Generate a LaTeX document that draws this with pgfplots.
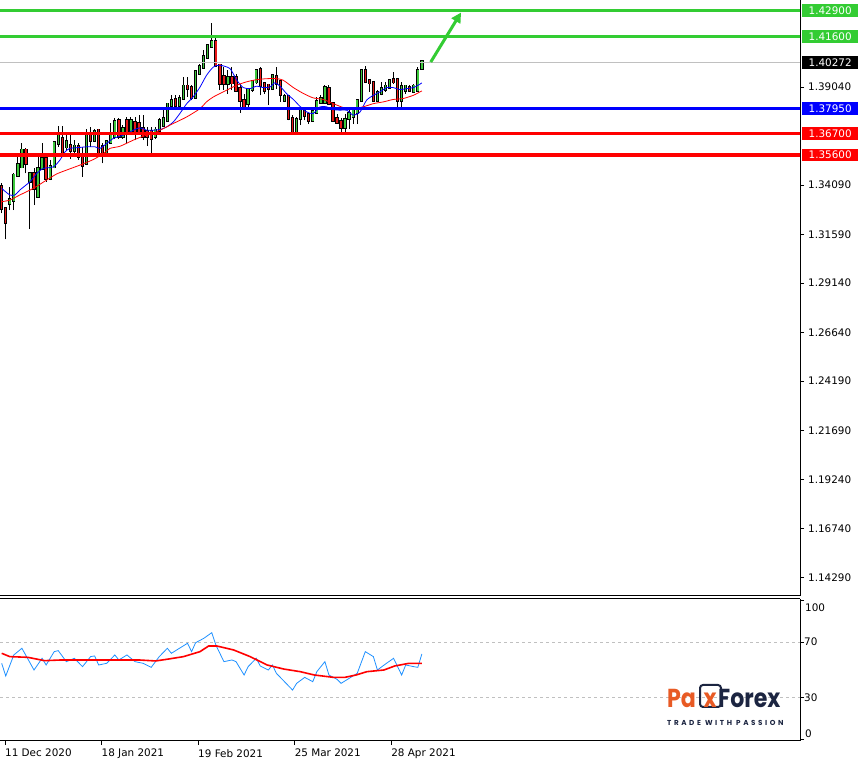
\documentclass[border=0pt]{standalone}
\usepackage{fontspec}
\setmainfont{DejaVu Sans}
\newfontfamily\logofont{Poppins}
\newfontfamily\tagfont{Poppins}[LetterSpace=36]
\usepackage{pgfplots}
\usepackage{pgfplotstable}
\pgfplotsset{compat=1.18}
\usetikzlibrary{arrows.meta}

\definecolor{lvgreen}{HTML}{33CC33}
\definecolor{cgreen}{HTML}{3CC83C}
\definecolor{cred}{HTML}{E81818}
\definecolor{lvred}{HTML}{FF0000}
\definecolor{lvblue}{HTML}{0000FF}
\definecolor{rsiblue}{HTML}{1E90FF}
\definecolor{pricegray}{HTML}{C0C0C0}
\definecolor{paxorange}{HTML}{E85A24}
\definecolor{paxnavy}{HTML}{1C2541}

\newcommand\ticks{\fontsize{10.4}{12}\selectfont}
\tikzset{tag/.style={font=\ticks, text=white, anchor=west, minimum width=56pt,
    minimum height=12.5pt, inner sep=0pt, xshift=2pt}}
\pgfplotsset{bars/.style={draw=none, no markers, forget plot,
    error bars/y dir=plus, error bars/y explicit, error bars/error mark=none}}

% daily candles, bar index i
\pgfplotstableread{
i o h l c
0 1.3401 1.3417 1.3266 1.3291
1 1.3291 1.3300 1.3135 1.3219
2 1.3317 1.3401 1.3283 1.3333
3 1.3333 1.3468 1.3283 1.3459
4 1.3459 1.3552 1.3451 1.3510
5 1.3501 1.3622 1.3493 1.3585
6 1.3585 1.3594 1.3468 1.3518
7 1.3426 1.3476 1.3186 1.3468
8 1.3468 1.3493 1.3308 1.3392
9 1.3354 1.3568 1.3350 1.3493
10 1.3493 1.3619 1.3485 1.3543
11 1.3543 1.3568 1.3426 1.3443
12 1.3443 1.3535 1.3434 1.3501
13 1.3501 1.3627 1.3493 1.3624
14 1.3619 1.3706 1.3602 1.3669
15 1.3644 1.3706 1.3552 1.3560
16 1.3602 1.3661 1.3585 1.3627
17 1.3607 1.3661 1.3543 1.3585
18 1.3585 1.3636 1.3568 1.3605
19 1.3602 1.3619 1.3538 1.3552
20 1.3552 1.3602 1.3451 1.3510
21 1.3518 1.3694 1.3510 1.3669
22 1.3669 1.3702 1.3602 1.3636
23 1.3636 1.3694 1.3627 1.3678
24 1.3686 1.3694 1.3568 1.3577
25 1.3602 1.3619 1.3518 1.3577
26 1.3577 1.3636 1.3568 1.3627
27 1.3627 1.3720 1.3619 1.3656
28 1.3653 1.3745 1.3644 1.3728
29 1.3733 1.3745 1.3644 1.3653
30 1.3653 1.3711 1.3644 1.3694
31 1.3736 1.3753 1.3619 1.3678
32 1.3683 1.3753 1.3678 1.3736
33 1.3723 1.3753 1.3636 1.3683
34 1.3720 1.3762 1.3669 1.3678
35 1.3694 1.3762 1.3636 1.3653
36 1.3678 1.3702 1.3605 1.3653
37 1.3678 1.3702 1.3565 1.3644
38 1.3653 1.3702 1.3644 1.3686
39 1.3686 1.3745 1.3683 1.3736
40 1.3711 1.3787 1.3706 1.3745
41 1.3736 1.3820 1.3733 1.3817
42 1.3812 1.3862 1.3804 1.3837
43 1.3841 1.3862 1.3787 1.3812
44 1.3812 1.3862 1.3807 1.3846
45 1.3846 1.3955 1.3841 1.3908
46 1.3908 1.3955 1.3854 1.3896
47 1.3901 1.3913 1.3837 1.3854
48 1.3854 1.3988 1.3846 1.3980
49 1.3975 1.4022 1.3968 1.4008
50 1.4005 1.4089 1.3997 1.4059
51 1.4056 1.4123 1.4052 1.4114
52 1.4109 1.4227 1.4106 1.4134
53 1.4134 1.4165 1.4005 1.4014
54 1.4014 1.4022 1.3888 1.3921
55 1.3955 1.4005 1.3888 1.3921
56 1.3921 1.3988 1.3871 1.3951
57 1.3951 1.4005 1.3888 1.3925
58 1.3951 1.3972 1.3879 1.3888
59 1.3896 1.3921 1.3773 1.3837
60 1.3837 1.3871 1.3800 1.3804
61 1.3820 1.3896 1.3804 1.3888
62 1.3891 1.3938 1.3879 1.3930
63 1.3930 1.3997 1.3921 1.3988
64 1.3993 1.4005 1.3862 1.3913
65 1.3921 1.3930 1.3871 1.3888
66 1.3913 1.3921 1.3812 1.3896
67 1.3896 1.3972 1.3888 1.3962
68 1.3955 1.4005 1.3896 1.3921
69 1.3930 1.3938 1.3829 1.3867
70 1.3837 1.3871 1.3829 1.3857
71 1.3857 1.3862 1.3736 1.3745
72 1.3745 1.3762 1.3678 1.3683
73 1.3683 1.3753 1.3678 1.3740
74 1.3745 1.3795 1.3711 1.3787
75 1.3778 1.3804 1.3736 1.3762
76 1.3762 1.3770 1.3716 1.3736
77 1.3736 1.3795 1.3728 1.3778
78 1.3778 1.3854 1.3770 1.3832
79 1.3829 1.3862 1.3820 1.3846
80 1.3829 1.3913 1.3820 1.3901
81 1.3896 1.3913 1.3812 1.3820
82 1.3820 1.3829 1.3733 1.3736
83 1.3745 1.3770 1.3720 1.3728
84 1.3731 1.3745 1.3678 1.3702
85 1.3702 1.3770 1.3678 1.3740
86 1.3745 1.3795 1.3694 1.3770
87 1.3757 1.3804 1.3716 1.3783
88 1.3778 1.3837 1.3716 1.3837
89 1.3837 1.3988 1.3829 1.3985
90 1.3985 1.4012 1.3925 1.3933
91 1.3938 1.3946 1.3879 1.3925
92 1.3925 1.3930 1.3829 1.3837
93 1.3837 1.3888 1.3829 1.3876
94 1.3871 1.3930 1.3862 1.3896
95 1.3891 1.3930 1.3879 1.3908
96 1.3904 1.3941 1.3896 1.3935
97 1.3941 1.3980 1.3921 1.3930
98 1.3941 1.3946 1.3804 1.3837
99 1.3837 1.3930 1.3804 1.3904
100 1.3888 1.3913 1.3871 1.3908
101 1.3901 1.3913 1.3879 1.3888
102 1.3884 1.3921 1.3874 1.3908
103 1.3888 1.4005 1.3884 1.3985
104 1.4000 1.4042 1.3992 1.4030
}\candles

\begin{document}
\begin{tikzpicture}
\useasboundingbox (0,0) rectangle (862pt,760pt);

% ---------------- price panel
\begin{axis}[
  at={(0pt,164pt)}, anchor=south west,
  scale only axis, width=800pt, height=596pt,
  xmin=-0.42, xmax=197.6, ymin=1.13346, ymax=1.43432,
  axis x line*=bottom, axis y line*=right,
  axis line style={black, line width=1pt},
  xtick=\empty,
  ytick={1.1429,1.1674,1.1924,1.2169,1.2419,1.2664,1.2914,1.3159,1.3409,1.3904},
  yticklabels={1.14290,1.16740,1.19240,1.21690,1.24190,1.26640,1.29140,1.31590,1.34090,1.39040},
  tick align=outside, major tick length=4pt,
  tick style={black, line width=0.8pt},
  yticklabel style={font=\ticks, anchor=west, inner sep=0pt, xshift=4pt},
  clip=false,
]
% wicks
\addplot [bars, error bars/error bar style={draw=black, line width=1pt}]
  table [x=i, y=l, y error plus expr=\thisrow{h}-\thisrow{l}] {\candles};
% bullish bodies
\addplot [bars, restrict expr to domain={\thisrow{c}-\thisrow{o}}{0:1},
  error bars/error bar style={draw=black, line width=3.3pt, line cap=rect}]
  table [x=i, y=o, y error plus expr=\thisrow{c}-\thisrow{o}] {\candles};
\addplot [bars, restrict expr to domain={\thisrow{c}-\thisrow{o}}{0:1},
  error bars/error bar style={draw=cgreen, line width=1.5pt, line cap=rect}]
  table [x=i, y=o, y error plus expr=\thisrow{c}-\thisrow{o}] {\candles};
% bearish bodies
\addplot [bars, restrict expr to domain={\thisrow{o}-\thisrow{c}}{0.00001:1},
  error bars/error bar style={draw=black, line width=3.3pt, line cap=rect}]
  table [x=i, y=c, y error plus expr=\thisrow{o}-\thisrow{c}] {\candles};
\addplot [bars, restrict expr to domain={\thisrow{o}-\thisrow{c}}{0.00001:1},
  error bars/error bar style={draw=cred, line width=1.5pt, line cap=rect}]
  table [x=i, y=c, y error plus expr=\thisrow{o}-\thisrow{c}] {\candles};

% moving averages
\addplot [lvblue, line width=0.8pt, smooth, tension=0.4] coordinates {
(0,1.3392) (2,1.3359) (3.3,1.3359) (4.5,1.3384) (7,1.3426) (8.7,1.3468)
(10.3,1.3493) (12.8,1.3501) (14.4,1.3535) (15.7,1.3577) (16.9,1.3594)
(19.4,1.3599) (21,1.3602) (23.1,1.3602) (24.3,1.3594) (26,1.3619)
(27.6,1.3644) (30.1,1.3661) (32.6,1.3686) (34.2,1.3698) (35.9,1.3686)
(37.5,1.3686) (39.2,1.3689) (40.8,1.3702) (42.5,1.3728) (44.1,1.3770)
(45.8,1.3820) (47.4,1.3854) (49.1,1.3904) (50.7,1.3963) (52.4,1.4005)
(54,1.4014) (56.5,1.3997) (58.2,1.3938) (59.8,1.3901) (61.5,1.3896)
(63.1,1.3908) (64.8,1.3901) (66.4,1.3904) (67.6,1.3925) (68.9,1.3908)
(70.5,1.3871) (72.2,1.3841) (73.8,1.3807) (75.5,1.3778) (77.1,1.3770)
(78.8,1.3804) (80.4,1.3804) (82.1,1.3790) (83.7,1.3787) (85.4,1.3787)
(87,1.3762) (88.7,1.3778) (90.3,1.3837) (92,1.3862) (93.6,1.3879)
(95.3,1.3901) (96.9,1.3901) (98.6,1.3891) (100.2,1.3896) (101.9,1.3901)
(103.5,1.3918) (104,1.3925)};
\addplot [lvred, line width=0.8pt, smooth, tension=0.4] coordinates {
(0,1.3325) (2,1.3333) (4.5,1.3359) (7.8,1.3392) (11.1,1.3434) (13.6,1.3465)
(16.1,1.3485) (19.4,1.3510) (22.7,1.3538) (25.2,1.3568) (26.8,1.3594)
(29.3,1.3605) (32.6,1.3636) (35.1,1.3656) (37.5,1.3669) (40,1.3694)
(42.5,1.3720) (45.8,1.3753) (49.1,1.3795) (50.7,1.3829) (52.4,1.3854)
(55.7,1.3888) (58.2,1.3913) (60.6,1.3930) (63.1,1.3941) (65.6,1.3946)
(68.1,1.3946) (69.7,1.3938) (72.2,1.3901) (74.7,1.3871) (77.1,1.3849)
(79.6,1.3841) (82.1,1.3820) (84.6,1.3800) (87,1.3795) (89.5,1.3804)
(92,1.3820) (94.5,1.3829) (96.9,1.3841) (99.4,1.3846) (101.9,1.3862)
(103.5,1.3879) (104,1.3884)};

% current price and levels
\addplot [pricegray, line width=0.8pt] coordinates {(-0.42,1.40272) (197.6,1.40272)};
\addplot [lvgreen, line width=3pt] coordinates {(-0.42,1.429) (197.6,1.429)};
\addplot [lvgreen, line width=3pt] coordinates {(-0.42,1.416) (197.6,1.416)};
\addplot [lvblue, line width=3.5pt] coordinates {(-0.42,1.3795) (197.6,1.3795)};
\addplot [lvred, line width=3.5pt] coordinates {(-0.42,1.367) (197.6,1.367)};
\addplot [lvred, line width=3.5pt] coordinates {(-0.42,1.356) (197.6,1.356)};

% target arrow
\addplot [lvgreen, line width=3pt, -{Triangle[length=10pt,width=10pt]}]
  coordinates {(106.2,1.4030) (113.7,1.4280)};

\node [tag, fill=lvgreen] at (axis cs:197.6,1.429) {1.42900};
\node [tag, fill=lvgreen] at (axis cs:197.6,1.416) {1.41600};
\node [tag, fill=black] at (axis cs:197.6,1.40272) {1.40272};
\node [tag, fill=lvblue] at (axis cs:197.6,1.3795) {1.37950};
\node [tag, fill=lvred] at (axis cs:197.6,1.367) {1.36700};
\node [tag, fill=lvred] at (axis cs:197.6,1.356) {1.35600};
\end{axis}

% ---------------- RSI panel
\begin{axis}[
  at={(0pt,19pt)}, anchor=south west,
  scale only axis, width=800pt, height=142.3pt,
  xmin=-0.42, xmax=197.6, ymin=-1.08, ymax=101.1,
  axis x line*=bottom, axis y line*=right,
  axis line style={black, line width=1pt},
  xtick={0.82,24.7,48.6,72.5,96.4},
  xticklabels={11 Dec 2020,18 Jan 2021,19 Feb 2021,25 Mar 2021,28 Apr 2021},
  ytick={0,30,70,100}, yticklabels={},
  tick align=outside, major tick length=4pt,
  tick style={black, line width=0.8pt},
  xticklabel style={font=\ticks, anchor=north west, inner sep=0pt, yshift=-4pt},
  clip=false,
]
\draw [black, line width=1pt] (rel axis cs:0,1) -- (rel axis cs:1,1);
\addplot [pricegray, dash pattern=on 3pt off 3pt, line width=0.8pt]
  coordinates {(-0.42,70) (197.6,70)};
\addplot [pricegray, dash pattern=on 3pt off 3pt, line width=0.8pt]
  coordinates {(-0.42,30) (197.6,30)};

\addplot [rsiblue, line width=0.8pt] coordinates {
(0,54.7) (1,45.6) (3,60.7) (5,65.5) (8,49.9) (10,58.3) (11,53.5) (13,63.1)
(14,63.8) (16,55.9) (18,58.3) (20,52.3) (22,59.5) (23,60.0) (24,53.5)
(26,54.7) (28,60.7) (29,57.1) (31,60.7) (33,55.9) (35,54.7) (37,51.8)
(39,59.5) (41,65.5) (42,61.9) (44,65.5) (46,69.1) (47,63.1) (48,69.5)
(50,72.6) (52,76.7) (53,67.9) (55,55.9) (57,57.1) (58,55.9) (60,46.3)
(61,52.3) (63,58.3) (64,52.8) (66,49.9) (67,53.5) (68,47.5) (70,41.5)
(72,35.5) (73,40.3) (75,44.6) (77,41.5) (78,48.7) (80,55.9) (81,46.3)
(83,43.2) (84,40.3) (86,43.9) (88,47.5) (90,63.1) (92,59.5) (93,49.9)
(95,54.2) (97,58.3) (99,46.3) (100,53.5) (102,52.3) (103,51.8) (104,61.4)};
\addplot [lvred, line width=1.6pt] coordinates {
(0,61.9) (2,59.5) (6.5,59.0) (10.6,56.6) (14.7,57.1) (27,57.1) (34,57.1)
(38.1,56.4) (40.9,57.6) (45,59.5) (49.1,63.1) (51.2,67.1) (53.3,67.1)
(57.4,64.3) (61.5,59.5) (65.7,53.5) (69.8,50.6) (73.9,48.7) (77.4,46.3)
(82.2,44.6) (84.9,44.6) (87.7,46.3) (90.4,48.7) (94.6,49.9) (97.3,52.8)
(100.8,54.7) (104,54.7)};

\node [font=\ticks, anchor=west, inner sep=0pt] at (axis cs:197.6,100) [xshift=5pt, yshift=-7.5pt] {100};
\node [font=\ticks, anchor=west, inner sep=0pt] at (axis cs:197.6,70) [xshift=4pt] {70};
\node [font=\ticks, anchor=west, inner sep=0pt] at (axis cs:197.6,30) [xshift=4pt] {30};
\node [font=\ticks, anchor=west, inner sep=0pt] at (axis cs:197.6,0) [xshift=5pt, yshift=6pt] {0};
\end{axis}

% ---------------- logo
\node [anchor=base west, inner sep=0pt, text=paxorange,
  font=\logofont\bfseries\fontsize{26}{26}\selectfont] at (667pt,52pt) {\scalebox{0.85}[1]{Pa}};
\draw [paxnavy, line width=2pt, rounded corners=3pt] (700pt,53pt) rectangle (721pt,75pt);
\node [anchor=base, inner sep=0pt, text=paxorange,
  font=\logofont\bfseries\fontsize{26}{26}\selectfont] at (710pt,52pt) {\scalebox{0.85}[1]{x}};
\node [anchor=base west, inner sep=0pt, text=paxnavy,
  font=\logofont\bfseries\fontsize{26}{26}\selectfont] at (718pt,52pt) {\scalebox{0.85}[1]{Forex}};
\node [anchor=base west, inner sep=0pt, text=paxnavy,
  font=\tagfont\bfseries\fontsize{7.2}{8}\selectfont] at (667pt,34pt) {TRADE WITH PASSION};
\end{tikzpicture}
\end{document}
